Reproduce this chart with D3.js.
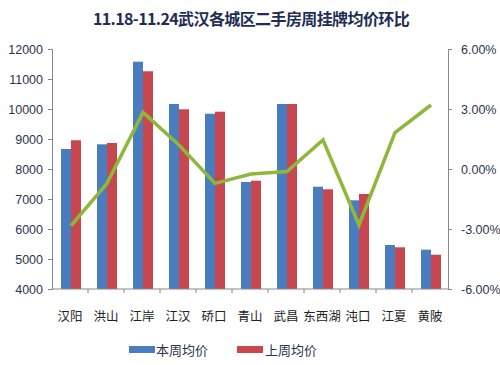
<!DOCTYPE html>
<html><head><meta charset="utf-8">
<script src="https://cdn.jsdelivr.net/npm/d3@7"></script>
<style>body{margin:0;background:#fff}svg{display:block}</style>
</head><body>
<svg id="c" width="500" height="365"></svg>
<script>
const categories = ["汉阳","洪山","江岸","江汉","硚口","青山","武昌","东西湖","沌口","江夏","黄陂"];
const thisWeek = [8667,8823,11577,10167,9843,7567,10167,7410,6957,5467,5310];
const lastWeek = [8957,8867,11257,9990,9910,7610,10167,7323,7167,5390,5143];
const change = [-2.83,-0.72,2.83,1.2,-0.72,-0.25,-0.13,1.45,-2.8,1.82,3.2];
const leftTicks = [4000,5000,6000,7000,8000,9000,10000,11000,12000];
const rightTicks = [-6,-3,0,3,6];
const seriesNames = ["本周均价","上周均价"];

const svg = d3.select("#c");
const L = 52, R = 448, T = 49, B = 289;
const font = "'Liberation Sans', 'Noto Sans CJK SC', sans-serif";
const x = d3.scaleBand().domain(categories).range([L, R]);
const y = d3.scaleLinear().domain([4000,12000]).range([B, T]);
const y2 = d3.scaleLinear().domain([-6,6]).range([B, T]);
const colors = ["#4a7dc0","#c8464e"];

svg.append("text").attr("x",251).attr("y",25).attr("text-anchor","middle")
  .attr("font-family","'Noto Sans CJK SC', sans-serif").attr("font-weight","bold")
  .attr("font-size",16).attr("fill","#1f2d55").attr("letter-spacing","-0.6")
  .text("11.18-11.24武汉各城区二手房周挂牌均价环比");

// bars
const bw = 10;
categories.forEach((c,i)=>{
  const cx = x(c) + x.bandwidth()/2 + 1;
  [thisWeek[i], lastWeek[i]].forEach((v,k)=>{
    svg.append("rect").attr("x", cx - bw + k*bw).attr("y", y(v))
      .attr("width", bw).attr("height", B - y(v)).attr("fill", colors[k]);
  });
});

// axes
const axL = svg.append("g").attr("transform",`translate(${L},0)`)
  .call(d3.axisLeft(y).tickValues(leftTicks).tickSize(4).tickPadding(5).tickFormat(d3.format("d")));
const axR = svg.append("g").attr("transform",`translate(${R},0)`)
  .call(d3.axisRight(y2).tickValues(rightTicks).tickSize(4).tickPadding(9).tickFormat(d=>d.toFixed(2)+"%"));
const axB = svg.append("g").attr("transform",`translate(0,${B})`)
  .call(d3.axisBottom(x).tickSize(0).tickPadding(23));
[axL,axR,axB].forEach(g=>{
  g.selectAll("path").attr("stroke","#888");
  g.selectAll("line").attr("stroke","#888");
  g.selectAll("text").attr("font-family",font).attr("font-size",12.5).attr("fill","#2b3550");
});
axB.selectAll("text").attr("font-family","'Noto Sans CJK SC', sans-serif").attr("font-size",12.5).attr("fill","#222");
axB.select("path").attr("d",`M${L},0H${R}`);
// category separator ticks
categories.slice(1).forEach(c=>{
  axB.append("line").attr("x1",x(c)).attr("x2",x(c)).attr("y1",0).attr("y2",4).attr("stroke","#888");
});

// line
const line = d3.line().x((d,i)=>x(categories[i])+x.bandwidth()/2+1).y(d=>y2(d));
svg.append("path").datum(change).attr("d",line).attr("fill","none")
  .attr("stroke","#8fb83a").attr("stroke-width",3.5).attr("stroke-linejoin","miter");

// legend
const lg = [{x:129,tx:156},{x:237,tx:265}];
seriesNames.forEach((n,k)=>{
  svg.append("rect").attr("x",lg[k].x).attr("y",346).attr("width",26).attr("height",7).attr("fill",colors[k]);
  svg.append("text").attr("x",lg[k].tx).attr("y",355).attr("font-family","'Noto Sans CJK SC', sans-serif")
    .attr("font-size",13).attr("fill","#2b3550").text(n);
});
</script>
</body></html>
